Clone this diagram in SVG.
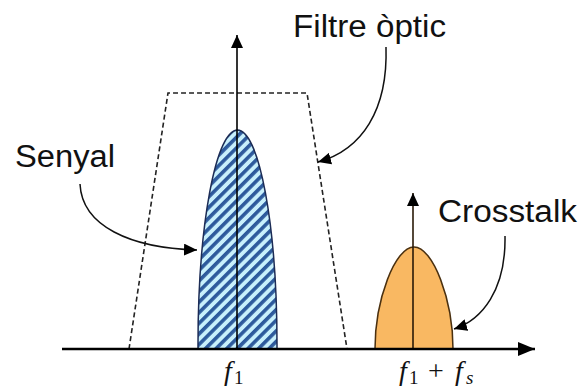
<svg xmlns="http://www.w3.org/2000/svg" width="579" height="388" viewBox="0 0 579 388">
  <style>
    .lbl { font-family: "Liberation Sans", Arial, sans-serif; font-size: 31px; fill: #111; }
    .math { font-family: "Liberation Serif", "DejaVu Serif", serif; fill: #111; }
    .conn { fill: none; stroke: #111; stroke-width: 1.5; }
    .axis { stroke: #000; stroke-width: 2.6; fill: none; }
    .dash { fill: none; stroke: #222; stroke-width: 1.6; stroke-dasharray: 5 3; }
  </style>
  <defs>
    <marker id="ah" markerUnits="userSpaceOnUse" markerWidth="14" markerHeight="12" refX="13" refY="6" orient="auto">
      <path d="M0,0 L13,6 L0,12 Z" fill="#000"/>
    </marker>
    <marker id="ahBig" markerUnits="userSpaceOnUse" markerWidth="18" markerHeight="14" refX="17" refY="7" orient="auto">
      <path d="M0,0 L17,7 L0,14 Z" fill="#000"/>
    </marker>
    <pattern id="hatch" patternUnits="userSpaceOnUse" width="7.5" height="7.5" patternTransform="rotate(45)">
      <rect x="0" y="0" width="7.5" height="7.5" fill="#c8f0fc"/>
      <rect x="0" y="0" width="3.6" height="7.5" fill="#2d5a9c"/>
    </pattern>
  </defs>

  <g id="filter">
    <path class="dash" d="M129,349 L168,93 L307,93 L347,349"/>
  </g>

  <g id="signal">
    <path d="M198,349 L198,345 A39.5,215 0 0 1 277,345 L277,349 Z" fill="url(#hatch)" stroke="#1c2c55" stroke-width="1.5"/>
    <line x1="237" y1="349" x2="237" y2="35" stroke="#000" stroke-width="1.6" marker-end="url(#ah)"/>
  </g>

  <g id="crosstalk">
    <path d="M375,349 C375,300 395,247 414,247 C433,247 453,300 453,349 Z" fill="#f9b862" stroke="#4a3010" stroke-width="1.5"/>
    <line x1="413" y1="349" x2="413" y2="193" stroke="#2a1a08" stroke-width="1.6" marker-end="url(#ah)"/>
  </g>

  <g id="axis">
    <line class="axis" x1="62" y1="349" x2="535" y2="349" marker-end="url(#ahBig)"/>
  </g>

  <g id="connectors">
    <path class="conn" d="M386,47 C388,110 362,150 318,162" marker-end="url(#ah)"/>
    <path class="conn" d="M80,184 C82,226 130,248 197,250" marker-end="url(#ah)"/>
    <path class="conn" d="M505,236 C506,290 482,320 454,329" marker-end="url(#ah)"/>
  </g>

  <g id="labels">
    <text class="math" x="224" y="380" font-size="28"><tspan font-style="italic">f</tspan><tspan x="234" dy="4" font-size="19">1</tspan></text>
    <text class="math" y="380" font-size="28"><tspan x="399" font-style="italic">f</tspan><tspan x="409" dy="4" font-size="19">1</tspan><tspan x="428" dy="-4">+</tspan><tspan x="455" font-style="italic">f</tspan><tspan x="466" dy="4" font-size="19" font-style="italic">s</tspan></text>
    <text class="lbl" x="293" y="37" textLength="153" lengthAdjust="spacingAndGlyphs">Filtre òptic</text>
    <text class="lbl" x="15" y="167" textLength="100" lengthAdjust="spacingAndGlyphs">Senyal</text>
    <text class="lbl" x="438" y="222" textLength="139" lengthAdjust="spacingAndGlyphs">Crosstalk</text>
  </g>
</svg>
